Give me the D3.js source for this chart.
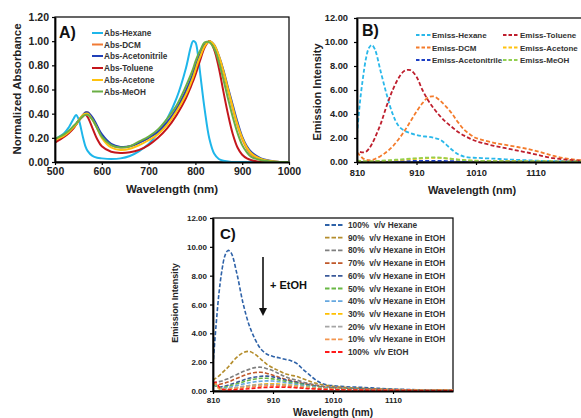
<!DOCTYPE html>
<html><head><meta charset="utf-8">
<script src="https://cdn.jsdelivr.net/npm/d3@7"></script>
<style>
html,body{margin:0;padding:0;background:#fff;}
svg{display:block;font-family:"Liberation Sans",Arial,sans-serif;font-weight:bold;}
</style></head>
<body><svg id="c" width="581" height="418"></svg>
<script>
// ---------- Panel A: absorbance ----------
const A_wavelength = [500,520,530,540,545,550,560,565,570,580,590,600,620,640,660,680,700,720,740,760,780,790,795,800,805,810,820,830,840,850,860,870,880,890,900,910,920,940,960,980,1000];
const A_hexane = [.19,.24,.29,.36,.39,.36,.20,.13,.09,.05,.035,.03,.025,.03,.05,.09,.15,.24,.36,.53,.78,.95,1.0,.99,.90,.74,.43,.19,.07,.025,.01,.005,0,0,0,0,0,0,0,0,0];
const A_dcm = [.18,.22,.25,.29,.31,.34,.39,.41,.41,.36,.29,.22,.14,.12,.13,.16,.20,.25,.33,.44,.59,.68,.73,.79,.84,.89,.97,1.0,.96,.87,.74,.59,.44,.30,.19,.11,.06,.02,.005,0,0];
const A_acetonitrile = [.18,.22,.25,.29,.31,.34,.39,.41,.41,.37,.30,.23,.15,.125,.13,.16,.20,.25,.33,.44,.59,.68,.73,.79,.84,.89,.97,1.0,.97,.88,.76,.61,.47,.33,.21,.13,.08,.03,.01,0,0];
const A_toluene = [.16,.21,.24,.28,.31,.34,.38,.39,.37,.28,.19,.13,.085,.075,.08,.10,.14,.20,.28,.39,.53,.62,.67,.72,.78,.84,.95,1.0,.93,.78,.58,.39,.23,.12,.06,.03,.015,0,0,0,0];
const A_acetone = [.18,.22,.25,.29,.31,.34,.39,.40,.40,.35,.28,.20,.12,.10,.11,.14,.18,.23,.31,.42,.56,.65,.70,.76,.82,.87,.96,1.0,.97,.88,.75,.60,.45,.31,.20,.12,.07,.025,.008,0,0];
const A_meoh = [.19,.23,.26,.30,.32,.34,.38,.39,.39,.35,.28,.21,.14,.12,.13,.17,.21,.27,.36,.47,.63,.72,.77,.83,.88,.92,.99,.99,.94,.83,.68,.52,.37,.24,.14,.08,.04,.015,.005,0,0];
const A_labels = ["Abs-Hexane","Abs-DCM","Abs-Acetonitrile","Abs-Toluene","Abs-Acetone","Abs-MeOH"];
const A_xticks = [500,600,700,800,900,1000];
const A_yticks = [0,0.2,0.4,0.6,0.8,1.0,1.2];

// ---------- Panel B: emission in solvents ----------
const B_wavelength = [810,815,820,825,830,835,840,850,860,870,880,890,900,910,920,930,940,950,960,970,980,990,1000,1010,1020,1040,1060,1080,1100,1120,1140,1160,1180,1200,1210];
const B_hexane = [2.3,5.0,7.0,8.6,9.5,9.75,9.4,7.5,5.6,4.0,3.0,2.6,2.4,2.25,2.15,2.1,2.0,1.85,1.45,1.0,0.65,0.45,0.37,0.35,0.32,0.28,0.22,0.18,0.14,0.1,0.08,0.06,0.05,0.04,0.04];
const B_toluene = [null,.85,.8,.85,1.1,1.5,2.0,3.2,4.7,6.0,7.0,7.6,7.65,7.1,6.0,5.1,4.4,3.8,3.3,2.9,2.5,2.2,1.95,1.75,1.6,1.35,1.15,.95,.75,.52,.32,.2,.12,.08,.08];
const B_dcm = [.8,.55,.3,.2,.15,.15,.25,.5,.85,1.3,1.9,2.6,3.4,4.2,4.9,5.4,5.45,5.1,4.6,4.0,3.3,2.7,2.3,2.0,1.85,1.6,1.42,1.25,1.05,.8,.52,.3,.18,.12,.1];
const B_acetone = [.05,.05,.04,.04,.04,.05,.06,.08,.1,.13,.16,.2,.24,.27,.3,.33,.35,.34,.3,.25,.2,.16,.13,.11,.1,.08,.07,.06,.05,.04,.04,.03,.03,.03,.03];
const B_acetonitrile = [.02,.02,.02,.02,.02,.03,.03,.04,.05,.06,.07,.08,.08,.09,.1,.1,.1,.09,.08,.07,.06,.06,.05,.05,.05,.04,.04,.04,.03,.03,.03,.03,.03,.03,.03];
const B_meoh = [.12,.1,.08,.06,.06,.06,.07,.1,.13,.17,.21,.25,.28,.31,.34,.37,.38,.36,.31,.25,.2,.15,.12,.1,.09,.07,.06,.05,.05,.04,.04,.03,.03,.03,.03];
const B_labels = ["Emiss-Hexane","Emiss-DCM","Emiss-Acetonitrile","Emiss-Toluene","Emiss-Acetone","Emiss-MeOH"];
const B_xticks = [810,910,1010,1110];
const B_yticks = [0,2,4,6,8,10,12];

// ---------- Panel C: hexane/EtOH mixtures ----------
const C_wavelength = B_wavelength;
const C_hex100 = [1.8,4.5,6.8,8.4,9.4,9.75,9.6,8.1,6.1,4.6,3.6,2.9,2.55,2.4,2.3,2.2,2.1,1.9,1.5,1.15,0.8,0.55,0.42,0.37,0.33,0.28,0.25,0.2,0.15,0.12,0.1,0.08,0.06,0.05,0.05];
const C_hex90 = [.75,.9,1.05,1.25,1.45,1.65,1.9,2.35,2.65,2.75,2.55,2.2,1.85,1.6,1.4,1.2,1.1,1.0,.85,.7,.55,.45,.38,.32,.28,.22,.18,.15,.12,.1,.08,.07,.06,.05,.05];
const C_hex80 = [.55,.6,.65,.7,.78,.85,.95,1.15,1.35,1.5,1.62,1.65,1.55,1.4,1.2,1.0,.85,.75,.62,.52,.43,.35,.3,.25,.22,.18,.15,.12,.1,.08,.07,.06,.05,.04,.04];
const C_hex70 = [.45,.45,.45,.5,.55,.62,.7,.88,1.05,1.2,1.28,1.3,1.22,1.1,.95,.82,.72,.62,.52,.45,.37,.3,.25,.21,.18,.15,.12,.1,.08,.07,.06,.05,.05,.04,.04];
const C_hex60 = [.4,.35,.28,.3,.35,.4,.47,.6,.75,.88,.97,1.02,1.03,.98,.88,.77,.68,.6,.5,.42,.35,.28,.22,.18,.16,.13,.11,.09,.08,.07,.06,.05,.04,.04,.04];
const C_hex50 = [.45,.35,.2,.22,.27,.32,.38,.5,.63,.75,.83,.88,.88,.84,.76,.67,.59,.52,.44,.37,.31,.25,.2,.17,.15,.12,.1,.08,.07,.06,.05,.05,.04,.04,.04];
const C_hex40 = [.5,.4,.18,.17,.2,.24,.28,.38,.48,.57,.64,.68,.7,.69,.64,.57,.5,.44,.38,.32,.27,.22,.18,.15,.13,.1,.09,.08,.07,.06,.05,.05,.04,.04,.04];
const C_hex30 = [.5,.45,.15,.1,.12,.14,.17,.23,.3,.37,.43,.47,.5,.5,.48,.44,.4,.35,.3,.26,.22,.18,.15,.13,.11,.09,.08,.07,.06,.05,.05,.04,.04,.04,.04];
const C_hex20 = [.55,.5,.2,.12,.15,.17,.2,.26,.32,.37,.41,.44,.45,.45,.43,.4,.36,.32,.28,.24,.2,.17,.14,.12,.1,.08,.07,.06,.05,.05,.04,.04,.04,.03,.03];
const C_hex10 = [.55,.5,.18,.1,.1,.12,.14,.18,.23,.27,.31,.34,.36,.37,.36,.34,.31,.28,.24,.2,.17,.14,.12,.1,.09,.07,.06,.05,.05,.04,.04,.03,.03,.03,.03];
const C_etoh = [.55,.6,.3,.12,.08,.08,.08,.1,.13,.16,.2,.23,.25,.27,.27,.26,.25,.22,.19,.16,.14,.12,.1,.09,.08,.07,.06,.05,.05,.04,.04,.03,.03,.03,.03];
const C_labels = ["100%  v/v Hexane","90%  v/v Hexane in EtOH","80%  v/v Hexane in EtOH","70%  v/v Hexane in EtOH","60%  v/v Hexane in EtOH","50%  v/v Hexane in EtOH","40%  v/v Hexane in EtOH","30%  v/v Hexane in EtOH","20%  v/v Hexane in EtOH","10%  v/v Hexane in EtOH","100%  v/v EtOH"];
const C_xticks = [810,910,1010,1110];
const C_yticks = [0,2,4,6,8,10,12];

// ---------- styles ----------
const A_colors = ["#1EB6EA","#F07A35","#2140B8","#C4161C","#FFC20E","#6AAE45"];
const B_colors = ["#2AB8EA","#F47B2B","#1D3FC4","#BE1E2D","#FFC20E","#92D050"];
const C_colors = ["#2E62A8","#B48D2C","#7F7F7F","#C0582A","#3B5A9A","#69B845","#66A8E0","#FFC000","#A5A5A5","#F3964F","#FF1A1A"];

const svg = d3.select("#c");
svg.append("rect").attr("width",581).attr("height",418).attr("fill","#fff");

function panel(o){
  const g = svg.append("g");
  const clipId = "clip"+o.id;
  svg.append("clipPath").attr("id",clipId).append("rect")
    .attr("x",o.x.range()[0]).attr("y",o.y.range()[1])
    .attr("width",o.x.range()[1]-o.x.range()[0]).attr("height",o.y.range()[0]-o.y.range()[1]);
  g.append("rect").attr("x",o.x.range()[0]).attr("y",o.y.range()[1])
    .attr("width",o.x.range()[1]-o.x.range()[0]).attr("height",o.y.range()[0]-o.y.range()[1])
    .attr("fill","none").attr("stroke","#000").attr("stroke-width",1.2);
  const lines = g.append("g").attr("clip-path",`url(#${clipId})`);
  o.series.forEach((s,i)=>{
    const line = d3.line().defined(d=>d[1]!=null)
      .x(d=>o.x(d[0])).y(d=>o.y(d[1])).curve(d3.curveCatmullRom.alpha(0.5));
    lines.append("path").datum(o.wl.map((w,k)=>[w,s[k]]))
      .attr("d",line).attr("fill","none").attr("stroke",o.colors[i])
      .attr("stroke-width",o.sw).attr("stroke-dasharray",o.dash||null)
      .attr("stroke-linejoin","round");
  });
  const ax = g.append("g").attr("transform",`translate(0,${o.y.range()[0]})`)
    .call(d3.axisBottom(o.x).tickValues(o.xticks).tickFormat(d3.format("d")).tickSize(o.ts).tickSizeOuter(0).tickPadding(o.xpad));
  const ay = g.append("g").attr("transform",`translate(${o.x.range()[0]},0)`)
    .call(d3.axisLeft(o.y).tickValues(o.yticks).tickFormat(d3.format(".2f")).tickSize(o.ts).tickSizeOuter(0).tickPadding(o.ypad));
  [ax,ay].forEach(a=>{
    a.selectAll("path").attr("stroke","#000").attr("stroke-width",1.8);
    a.selectAll("line").attr("stroke","#000").attr("stroke-width",1.2);
    a.selectAll("text").attr("font-size",o.tfs).attr("font-family","Liberation Sans, Arial, sans-serif").attr("font-weight","bold").attr("fill","#222");
  });
  return g;
}

// Panel A
const xA = d3.scaleLinear().domain([500,1000]).range([55,289]);
const yA = d3.scaleLinear().domain([0,1.2]).range([162,17]);
panel({id:"A",x:xA,y:yA,wl:A_wavelength,series:[A_hexane,A_dcm,A_acetonitrile,A_toluene,A_acetone,A_meoh],
  colors:A_colors,sw:2,xticks:A_xticks,yticks:A_yticks,ts:3,xpad:3,ypad:3,tfs:10.5});
svg.append("text").attr("x",59).attr("y",38).attr("font-size",16).text("A)").attr("fill","#111");
A_labels.forEach((l,i)=>{
  const y = [33,44.5,56,68,80,91.5][i];
  svg.append("line").attr("x1",92).attr("x2",103).attr("y1",y).attr("y2",y).attr("stroke",A_colors[i]).attr("stroke-width",2);
  svg.append("text").attr("x",104).attr("y",y+3).attr("font-size",8.2).attr("fill","#333").text(l);
});
svg.append("text").attr("x",172).attr("y",193).attr("text-anchor","middle").attr("font-size",11.5).attr("fill","#222").text("Wavelength (nm)");
svg.append("text").attr("transform","translate(21,89) rotate(-90)").attr("text-anchor","middle").attr("font-size",11.5).attr("fill","#222").text("Normalized Absorbance");

// Panel B
const xB = d3.scaleLinear().domain([810,1210]).range([357,595]);
const yB = d3.scaleLinear().domain([0,12]).range([162,18]);
panel({id:"B",x:xB,y:yB,wl:B_wavelength,series:[B_hexane,B_dcm,B_acetonitrile,B_toluene,B_acetone,B_meoh],
  colors:B_colors,sw:1.8,dash:"4,2.2",xticks:B_xticks,yticks:B_yticks,ts:3,xpad:4,ypad:6,tfs:9.3});
svg.append("text").attr("x",362).attr("y",36).attr("font-size",16).text("B)").attr("fill","#111");
B_labels.forEach((l,i)=>{
  const col = i<3?0:1, row = i%3;
  const y = [35,47.5,60][row];
  const x1 = col? 503:416, x2 = col?518:431, tx = col?520:432;
  svg.append("line").attr("x1",x1).attr("x2",x2).attr("y1",y).attr("y2",y).attr("stroke",B_colors[i]).attr("stroke-width",1.8).attr("stroke-dasharray","3.5,2");
  svg.append("text").attr("x",tx).attr("y",y+3).attr("font-size",8).attr("fill","#333").text(l);
});
svg.append("text").attr("x",472).attr("y",194).attr("text-anchor","middle").attr("font-size",11).attr("fill","#222").text("Wavelength (nm)");
svg.append("text").attr("transform","translate(321,92) rotate(-90)").attr("text-anchor","middle").attr("font-size",11).attr("fill","#222").text("Emission Intensity");

// Panel C
const xC = d3.scaleLinear().domain([810,1210]).range([213,453]);
const yC = d3.scaleLinear().domain([0,12]).range([391,218]);
panel({id:"C",x:xC,y:yC,wl:C_wavelength,series:[C_hex100,C_hex90,C_hex80,C_hex70,C_hex60,C_hex50,C_hex40,C_hex30,C_hex20,C_hex10,C_etoh],
  colors:C_colors,sw:1.6,dash:"4,2",xticks:C_xticks,yticks:C_yticks,ts:3,xpad:3,ypad:3,tfs:8});
svg.append("text").attr("x",220).attr("y",239).attr("font-size",15).text("C)").attr("fill","#111");
C_labels.forEach((l,i)=>{
  const y = 225 + i*12.7;
  svg.append("line").attr("x1",325).attr("x2",344).attr("y1",y).attr("y2",y).attr("stroke",C_colors[i]).attr("stroke-width",1.8).attr("stroke-dasharray","4.5,2");
  svg.append("text").attr("x",348).attr("y",y+3).attr("font-size",8.3).attr("fill","#333").style("white-space","pre").text(l);
});
svg.append("line").attr("x1",263).attr("x2",263).attr("y1",257).attr("y2",309).attr("stroke","#111").attr("stroke-width",1.6);
svg.append("path").attr("d","M259,308 L267,308 L263,316 Z").attr("fill","#111");
svg.append("text").attr("x",270).attr("y",289).attr("font-size",11).attr("fill","#111").text("+ EtOH");
svg.append("text").attr("x",333).attr("y",416).attr("text-anchor","middle").attr("font-size",10).attr("fill","#222").text("Wavelength (nm)");
svg.append("text").attr("transform","translate(178,303) rotate(-90)").attr("text-anchor","middle").attr("font-size",9).attr("fill","#222").text("Emission Intensity");
</script></body></html>
